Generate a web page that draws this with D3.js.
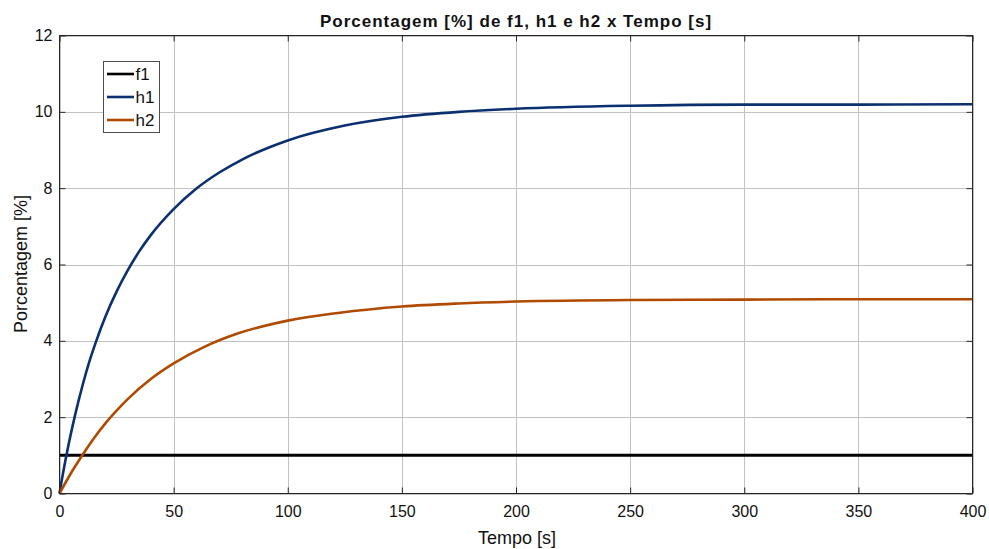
<!DOCTYPE html>
<html>
<head>
<meta charset="utf-8">
<script src="https://cdn.jsdelivr.net/npm/d3@7"></script>
<style>
  html, body { margin: 0; padding: 0; background: #fff; }
  svg { display: block; font-family: "Liberation Sans", Arial, sans-serif; }
</style>
</head>
<body>
<svg id="chart" width="989" height="549"></svg>
<script>
// Sample times [s] and percentages for each signal
const timeH1 = [0, 1, 2, 4, 7, 10, 13, 16, 20, 25, 30, 35, 40, 50, 60, 70, 80, 100, 125, 150, 175, 200, 250, 300, 350, 400];
const valuesH1 = [0, 0.35, 0.68, 1.29, 2.1, 2.81, 3.44, 3.98, 4.62, 5.29, 5.86, 6.35, 6.77, 7.45, 7.99, 8.41, 8.75, 9.25, 9.64, 9.87, 10.0, 10.08, 10.16, 10.19, 10.19, 10.2];

const timeH2 = [0, 5, 10, 15, 20, 25, 30, 40, 50, 63, 78, 100, 122, 150, 175, 200, 250, 300, 350, 400];
const valuesH2 = [0, 0.53, 1.0, 1.44, 1.83, 2.17, 2.48, 3.0, 3.41, 3.83, 4.19, 4.53, 4.73, 4.9, 4.98, 5.03, 5.07, 5.08, 5.09, 5.09];

const timeF1 = [0, 400];
const valuesF1 = [1, 1];

const xTicks = [0, 50, 100, 150, 200, 250, 300, 350, 400];
const yTicks = [0, 2, 4, 6, 8, 10, 12];

const seriesNames = ["f1", "h1", "h2"];
const seriesColors = ["#000000", "#0a3070", "#b04a00"];

const svg = d3.select("#chart");
const plotLeft = 59.5, plotRight = 972.5, plotTop = 35.5, plotBottom = 493.5;

const x = d3.scaleLinear().domain([0, 400]).range([plotLeft, plotRight]);
const y = d3.scaleLinear().domain([0, 12]).range([plotBottom, plotTop]);

// grid
const grid = svg.append("g");
grid.selectAll("line.gx").data(xTicks).join("line")
  .attr("x1", d => Math.round(x(d)) + 0.5).attr("x2", d => Math.round(x(d)) + 0.5)
  .attr("y1", plotTop).attr("y2", plotBottom)
  .attr("stroke", "#c2c2c2").attr("stroke-width", 1);
grid.selectAll("line.gy").data(yTicks).join("line")
  .attr("y1", d => Math.round(y(d)) + 0.5).attr("y2", d => Math.round(y(d)) + 0.5)
  .attr("x1", plotLeft).attr("x2", plotRight)
  .attr("stroke", "#c2c2c2").attr("stroke-width", 1);

// axes with inward ticks on all four sides
const axisColor = "#262626";
function styleAxis(g) {
  g.select(".domain").remove();
  g.selectAll(".tick line").attr("stroke", axisColor);
  g.selectAll(".tick text").attr("fill", "#111").style("font-size", "16px")
    .style("font-family", "'Liberation Sans', Arial, sans-serif");
}
svg.append("g").attr("transform", `translate(0,${plotBottom})`)
  .call(d3.axisBottom(x).tickValues(xTicks).tickSize(-6).tickPadding(12).tickFormat(d3.format("d")))
  .call(styleAxis);
svg.append("g").attr("transform", `translate(0,${plotTop})`)
  .call(d3.axisTop(x).tickValues(xTicks).tickSize(-6).tickFormat(""))
  .call(styleAxis);
svg.append("g").attr("transform", `translate(${plotLeft},0)`)
  .call(d3.axisLeft(y).tickValues(yTicks).tickSize(-6).tickPadding(7).tickFormat(d3.format("d")))
  .call(styleAxis);
svg.append("g").attr("transform", `translate(${plotRight},0)`)
  .call(d3.axisRight(y).tickValues(yTicks).tickSize(-6).tickFormat(""))
  .call(styleAxis);

// lines
const line = d3.line().x(d => x(d[0])).y(d => y(d[1])).curve(d3.curveMonotoneX);
const series = [
  { pts: d3.zip(timeF1, valuesF1), w: 3 },
  { pts: d3.zip(timeH1, valuesH1), w: 2.6 },
  { pts: d3.zip(timeH2, valuesH2), w: 2.6 }
];
svg.append("g").selectAll("path").data(series).join("path")
  .attr("d", d => line(d.pts))
  .attr("fill", "none")
  .attr("stroke", (d, i) => seriesColors[i])
  .attr("stroke-width", d => d.w)
  .attr("stroke-linejoin", "round");

// plot box
svg.append("rect").attr("x", plotLeft).attr("y", plotTop)
  .attr("width", plotRight - plotLeft).attr("height", plotBottom - plotTop)
  .attr("fill", "none").attr("stroke", axisColor).attr("stroke-width", 1);

// legend
const lg = svg.append("g");
lg.append("rect").attr("x", 103.5).attr("y", 61.5).attr("width", 56).attr("height", 71)
  .attr("fill", "#fff").attr("stroke", "#4d4d4d").attr("stroke-width", 1);
const rowsY = [74, 97, 120];
seriesNames.forEach((name, i) => {
  lg.append("line").attr("x1", 107).attr("x2", 134).attr("y1", rowsY[i]).attr("y2", rowsY[i])
    .attr("stroke", seriesColors[i]).attr("stroke-width", 2.6);
  lg.append("text").attr("x", 135.5).attr("y", rowsY[i] + 6)
    .style("font-size", "17px").attr("fill", "#111").text(name);
});

// title and axis labels
svg.append("text").attr("x", 516).attr("y", 27).attr("text-anchor", "middle")
  .style("font-size", "17px").style("font-weight", "bold").style("letter-spacing", "1px")
  .attr("fill", "#111")
  .text("Porcentagem [%] de f1, h1 e h2 x Tempo [s]");
svg.append("text").attr("x", 517).attr("y", 544).attr("text-anchor", "middle")
  .style("font-size", "18px").attr("fill", "#111").text("Tempo [s]");
svg.append("text").attr("transform", "translate(27,264) rotate(-90)").attr("text-anchor", "middle")
  .style("font-size", "18px").attr("fill", "#111").text("Porcentagem [%]");
</script>
</body>
</html>
